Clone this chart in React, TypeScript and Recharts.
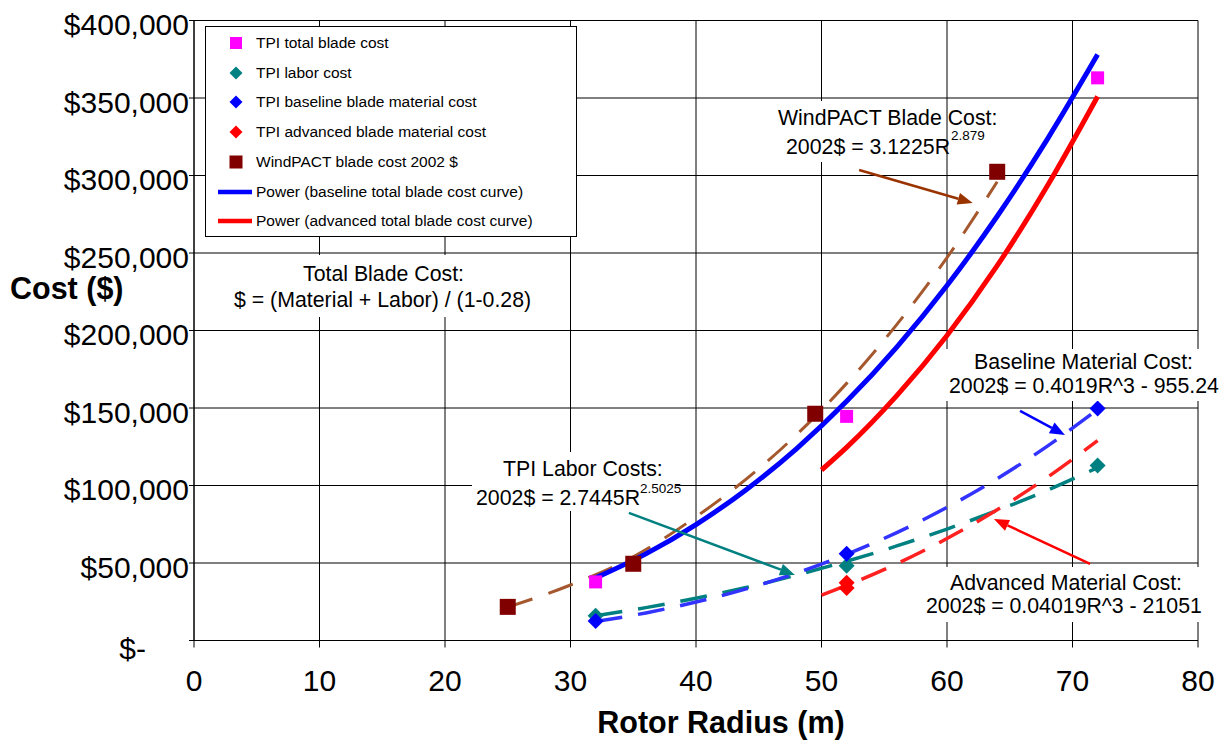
import React from "react";
import {
  CartesianGrid,
  ComposedChart,
  Legend,
  Line,
  ReferenceLine,
  Scatter,
  XAxis,
  YAxis,
} from "recharts";

const FONT = "'Liberation Sans', Arial, Helvetica, sans-serif";

// TPI data points
const tpiTotalR = [32, 52, 72];
const tpiTotalCost = [37800, 144600, 363000];
const tpiLaborR = [32, 52, 72];
const tpiLaborCost = [16000, 48200, 112900];
const tpiBaseMatR = [32, 52, 72];
const tpiBaseMatCost = [12600, 56000, 149700];
const tpiAdvMatR = [52, 52];
const tpiAdvMatCost = [37200, 33900];

// WindPACT points
const windpactR = [25, 35, 49.5, 64];
const windpactCost = [21700, 49500, 146300, 302400];

// curves
const baseTotalR = [32, 36, 40, 44, 48, 52, 56, 60, 64, 68, 72];
const baseTotalCost = [40400, 55900, 74800, 97300, 123700, 154300, 189300, 229000, 273700, 323500, 378000];
const advTotalR = [50, 52, 56, 60, 64, 68, 72];
const advTotalCost = [110000, 124600, 158000, 196800, 241800, 293400, 351000];
const windpactFitR = [25, 30, 35, 40, 45, 50, 55, 60, 64];
const windpactFitCost = [21500, 35800, 54000, 79800, 110800, 148700, 193900, 247000, 296000];
const laborFitR = [32, 36, 40, 44, 48, 52, 56, 60, 64, 68, 72];
const laborFitCost = [16000, 21200, 27300, 34200, 42200, 51100, 61000, 71900, 83900, 97000, 111500];
const baseMatFitR = [32, 36, 40, 44, 48, 52, 56, 60, 64, 68, 72];
const baseMatFitCost = [12200, 17800, 24800, 33300, 43500, 55600, 69600, 85900, 104400, 125400, 149100];
const advMatFitR = [50, 52, 56, 60, 64, 68, 72];
const advMatFitCost = [29200, 35500, 49500, 65800, 84300, 105300, 129000];

const xTicks = [0, 10, 20, 30, 40, 50, 60, 70, 80];
const yTicks = [0, 50000, 100000, 150000, 200000, 250000, 300000, 350000, 400000];

// annotation arrows (data coords)
const windpactArrow = [{ x: 53.0, y: 303500 }, { x: 62.05, y: 282300 }];
const laborArrow = [{ x: 34.65, y: 82300 }, { x: 47.88, y: 42300 }];
const baseMatArrow = [{ x: 65.82, y: 148100 }, { x: 69.4, y: 132600 }];
const advMatArrow = [{ x: 71.4, y: 49400 }, { x: 63.74, y: 78400 }];

const toPoints = (rs: number[], costs: number[]) =>
  rs.map((r, i) => ({ r, cost: costs[i] }));

const legendItems = [
  { kind: "square", color: "#ff00ff", size: 12, label: "TPI total blade cost" },
  { kind: "diamond", color: "#008080", size: 13, label: "TPI labor cost" },
  { kind: "diamond", color: "#0000ff", size: 13, label: "TPI baseline blade material cost" },
  { kind: "diamond", color: "#ff0000", size: 13, label: "TPI advanced blade material cost" },
  { kind: "square", color: "#800000", size: 13, label: "WindPACT blade cost 2002 $" },
  { kind: "line", color: "#0000ff", size: 0, label: "Power (baseline total blade cost curve)" },
  { kind: "line", color: "#ff0000", size: 0, label: "Power (advanced total blade cost curve)" },
];

const square = (color: string, size: number) => (props: any) => {
  const { cx, cy } = props;
  return <rect x={cx - size / 2} y={cy - size / 2} width={size} height={size} fill={color} />;
};

const diamond = (color: string, size: number) => (props: any) => {
  const { cx, cy } = props;
  const h = size / 2;
  return (
    <polygon
      points={`${cx},${cy - h} ${cx + h},${cy} ${cx},${cy + h} ${cx - h},${cy}`}
      fill={color}
    />
  );
};

const arrow = (color: string, width: number) => (props: any) => {
  const { x1, y1, x2, y2 } = props;
  const ang = Math.atan2(y2 - y1, x2 - x1);
  const len = 15;
  const half = 6;
  const bx = x2 - len * Math.cos(ang);
  const by = y2 - len * Math.sin(ang);
  const px = -Math.sin(ang) * half;
  const py = Math.cos(ang) * half;
  return (
    <g>
      <line x1={x1} y1={y1} x2={bx} y2={by} stroke={color} strokeWidth={width} />
      <polygon
        points={`${x2},${y2} ${bx + px},${by + py} ${bx - px},${by - py}`}
        fill={color}
      />
    </g>
  );
};

const CostTick = (props: any) => {
  const { x, y, payload } = props;
  const v = payload.value as number;
  if (v === 0) {
    return (
      <text x={x - 43} y={y + 8} dy="0.355em" textAnchor="end" fontSize={30} fill="#000" fontFamily={FONT}>
        $-
      </text>
    );
  }
  return (
    <text x={x} y={y + 4} dy="0.355em" textAnchor="end" fontSize={30} fill="#000" fontFamily={FONT}>
      {"$" + v.toLocaleString("en-US")}
    </text>
  );
};

function LegendBox() {
  return (
    <div
      style={{
        width: 372,
        height: 211,
        border: "1px solid #000",
        background: "#fff",
        position: "relative",
        boxSizing: "border-box",
        fontFamily: FONT,
        fontSize: 15.5,
        color: "#000",
      }}
    >
      {legendItems.map((it, i) => (
        <div
          key={it.label}
          style={{
            position: "absolute",
            left: 0,
            top: 16 + i * 29.7 - 10,
            height: 20,
            display: "flex",
            alignItems: "center",
            whiteSpace: "nowrap",
          }}
        >
          <svg width={50} height={20} style={{ display: "block" }}>
            {it.kind === "square" && (
              <rect x={30 - it.size / 2} y={10 - it.size / 2} width={it.size} height={it.size} fill={it.color} />
            )}
            {it.kind === "diamond" && (
              <polygon
                points={`30,${10 - it.size / 2} ${30 + it.size / 2},10 30,${10 + it.size / 2} ${30 - it.size / 2},10`}
                fill={it.color}
              />
            )}
            {it.kind === "line" && <line x1={12} y1={10} x2={46} y2={10} stroke={it.color} strokeWidth={4.5} />}
          </svg>
          <span>{it.label}</span>
        </div>
      ))}
    </div>
  );
}

const noteStyle = { fontFamily: FONT, fontSize: 21.3, fill: "#000" };
const supStyle = { fontFamily: FONT, fontSize: 13.5, fill: "#000" };
const titleStyle = { fontFamily: FONT, fontSize: 30.5, fontWeight: "bold" as const, fill: "#000" };

export default function App() {
  return (
    <div style={{ position: "absolute", left: 0, top: 0, width: 1228, height: 742, background: "#fff" }}>
      <ComposedChart width={1228} height={742} margin={{ top: 20.5, right: 30, bottom: 0, left: 0 }}>
        <CartesianGrid stroke="#000" strokeWidth={1} />
        <XAxis
          type="number"
          dataKey="r"
          domain={[0, 80]}
          ticks={xTicks}
          height={101.5}
          tickSize={7}
          tickMargin={22}
          tick={{ fontSize: 30, fill: "#000", fontFamily: FONT }}
          axisLine={{ stroke: "#000" }}
          tickLine={{ stroke: "#000" }}
          allowDataOverflow
        />
        <YAxis
          type="number"
          dataKey="cost"
          domain={[0, 400000]}
          ticks={yTicks}
          width={194}
          tickSize={5}
          tickMargin={0}
          tick={<CostTick />}
          axisLine={{ stroke: "#000" }}
          tickLine={{ stroke: "#000" }}
          allowDataOverflow
        />
        <Legend
          layout="vertical"
          align="center"
          verticalAlign="middle"
          content={() => <LegendBox />}
          wrapperStyle={{ left: 205, top: 26, width: 372, height: 211 }}
        />

        <Scatter data={toPoints(windpactR, windpactCost)} shape={square("#800000", 16)} isAnimationActive={false} />
        <Scatter data={toPoints(tpiTotalR, tpiTotalCost)} shape={square("#ff00ff", 13)} isAnimationActive={false} />
        <Scatter data={toPoints(tpiLaborR, tpiLaborCost)} shape={diamond("#008080", 16)} isAnimationActive={false} />
        <Scatter data={toPoints(tpiBaseMatR, tpiBaseMatCost)} shape={diamond("#0000ff", 16)} isAnimationActive={false} />
        <Scatter data={toPoints(tpiAdvMatR, tpiAdvMatCost)} shape={diamond("#ff0000", 16)} isAnimationActive={false} />

        <Line
          data={toPoints(windpactFitR, windpactFitCost)}
          dataKey="cost"
          type="monotone"
          stroke="#a5582e"
          strokeWidth={3}
          strokeDasharray="26 17"
          dot={false}
          activeDot={false}
          isAnimationActive={false}
        />
        <Line
          data={toPoints(laborFitR, laborFitCost)}
          dataKey="cost"
          type="monotone"
          stroke="#008080"
          strokeWidth={3.5}
          strokeDasharray="27 16"
          dot={false}
          activeDot={false}
          isAnimationActive={false}
        />
        <Line
          data={toPoints(baseMatFitR, baseMatFitCost)}
          dataKey="cost"
          type="monotone"
          stroke="#3333ff"
          strokeWidth={3.5}
          strokeDasharray="27 16"
          dot={false}
          activeDot={false}
          isAnimationActive={false}
        />
        <Line
          data={toPoints(advMatFitR, advMatFitCost)}
          dataKey="cost"
          type="monotone"
          stroke="#ff2020"
          strokeWidth={3.5}
          strokeDasharray="27 16"
          dot={false}
          activeDot={false}
          isAnimationActive={false}
        />
        <Line
          data={toPoints(baseTotalR, baseTotalCost)}
          dataKey="cost"
          type="monotone"
          stroke="#0000ff"
          strokeWidth={5}
          dot={false}
          activeDot={false}
          isAnimationActive={false}
        />
        <Line
          data={toPoints(advTotalR, advTotalCost)}
          dataKey="cost"
          type="monotone"
          stroke="#ff0000"
          strokeWidth={5}
          dot={false}
          activeDot={false}
          isAnimationActive={false}
        />

        <ReferenceLine segment={windpactArrow} shape={arrow("#993300", 2.5)} ifOverflow="visible" />
        <ReferenceLine segment={laborArrow} shape={arrow("#008080", 2.5)} ifOverflow="visible" />
        <ReferenceLine segment={baseMatArrow} shape={arrow("#0000ff", 2.5)} ifOverflow="visible" />
        <ReferenceLine segment={advMatArrow} shape={arrow("#ff0000", 2.5)} ifOverflow="visible" />
      </ComposedChart>

      <svg
        width={1228}
        height={742}
        style={{ position: "absolute", left: 0, top: 0, pointerEvents: "none" }}
      >
        <rect x={772} y={101} width={172} height={61} fill="#fff" />
        <text x={778} y={125} style={noteStyle}>WindPACT Blade Cost:</text>
        <text x={786} y={154} style={noteStyle}>2002$ = 3.1225R</text>
        <text x={951} y={140} style={supStyle}>2.879</text>

        <rect x={230} y={255} width={304} height={62} fill="#fff" />
        <text x={303} y={281} style={noteStyle}>Total Blade Cost:</text>
        <text x={234} y={307} style={noteStyle}>$ = (Material + Labor) / (1-0.28)</text>

        <rect x={472} y={452} width={204} height={59} fill="#fff" />
        <text x={503} y={476} style={noteStyle}>TPI Labor Costs:</text>
        <text x={476} y={505} style={noteStyle}>2002$ = 2.7445R</text>
        <text x={640} y={493} style={supStyle}>2.5025</text>

        <rect x={946} y={349} width={276} height={52} fill="#fff" />
        <text x={974} y={369} style={noteStyle}>Baseline Material Cost:</text>
        <text x={949} y={393} style={noteStyle}>2002$ = 0.4019R^3 - 955.24</text>

        <rect x={922} y={567} width={278} height={55} fill="#fff" />
        <text x={950} y={590} style={noteStyle}>Advanced Material Cost:</text>
        <text x={926} y={613} style={noteStyle}>2002$ = 0.04019R^3 - 21051</text>

        <text x={10} y={299} style={titleStyle}>
          Cost ($)
        </text>
        <text x={721} y={733} textAnchor="middle" style={titleStyle}>
          Rotor Radius (m)
        </text>
      </svg>
    </div>
  );
}
